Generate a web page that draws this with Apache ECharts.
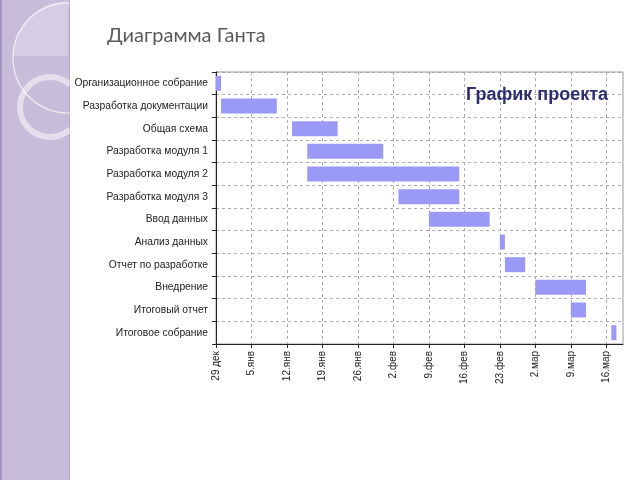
<!DOCTYPE html>
<html>
<head>
<meta charset="utf-8">
<script src="https://cdn.jsdelivr.net/npm/echarts@6/dist/echarts.min.js"></script>
<style>
  html, body { margin: 0; padding: 0; background: #fff; }
  #main { width: 640px; height: 480px; }
</style>
</head>
<body>
<div id="main"></div>
<script>
// задачи проекта (сверху вниз)
const tasks = [
  'Организационное собрание',
  'Разработка документации',
  'Общая схема',
  'Разработка модуля 1',
  'Разработка модуля 2',
  'Разработка модуля 3',
  'Ввод данных',
  'Анализ данных',
  'Отчет по разработке',
  'Внедрение',
  'Итоговый отчет',
  'Итоговое собрание'
];
const taskStart = ['2008-12-29', '2008-12-30', '2009-01-13', '2009-01-16', '2009-01-16', '2009-02-03',
  '2009-02-09', '2009-02-23', '2009-02-24', '2009-03-02', '2009-03-09', '2009-03-17'];
const taskEnd = ['2008-12-30', '2009-01-10', '2009-01-22', '2009-01-31', '2009-02-15', '2009-02-15',
  '2009-02-21', '2009-02-24', '2009-02-28', '2009-03-12', '2009-03-12', '2009-03-18'];
const tickLabels = ['29 дек', '5.янв', '12.янв', '19.янв', '26.янв', '2.фев', '9.фев', '16.фев',
  '23.фев', '2.мар', '9.мар', '16.мар'];
const firstDay = '2008-12-29';
const lastDay = 80.3; // правый край шкалы, дней от начала

const DAY = 86400000;
const toDay = s => (Date.parse(s) - Date.parse(firstDay)) / DAY;
const offsets = taskStart.map(toDay);
const lengths = taskEnd.map((e, i) => toDay(e) - offsets[i]);

const font = '"Liberation Sans", Arial, sans-serif';
const narrow = '"Liberation Sans Narrow", "Arial Narrow", "Liberation Sans", Arial, sans-serif';
const dashed = { color: '#aaa', type: [3, 3], width: 1 };

const myChart = echarts.init(document.getElementById('main'));
myChart.setOption({
  backgroundColor: '#fff',
  animation: false,
  // левая полоса слайда
  graphic: [
    { type: 'rect', shape: { x: 0, y: 0, width: 70, height: 480 }, style: { fill: '#c8bcdb' }, z: -10 },
    { type: 'rect', shape: { x: 0, y: 0, width: 2, height: 480 }, style: { fill: '#a494c2' }, z: -9 },
    { type: 'rect', shape: { x: 69, y: 0, width: 1, height: 480 }, style: { fill: '#b5a8cf' }, z: -9 },
    { type: 'sector', shape: { cx: 68, cy: 56, r: 55, r0: 0, startAngle: Math.PI, endAngle: Math.PI * 1.5 },
      style: { fill: 'rgba(255,255,255,0.25)' }, z: -8 },
    { type: 'arc', shape: { cx: 68, cy: 58, r: 55, startAngle: Math.PI / 2 - 0.05, endAngle: Math.PI * 1.5 + 0.05 },
      style: { stroke: 'rgba(255,255,255,0.75)', lineWidth: 1.2, fill: null }, z: -7 },
    { type: 'arc', shape: { cx: 50, cy: 107, r: 30, startAngle: 0.84, endAngle: Math.PI * 2 - 0.84 },
      style: { stroke: 'rgba(255,255,255,0.5)', lineWidth: 6, fill: null }, z: -7 }
  ],
  title: [
    {
      text: 'Диаграмма Ганта',
      left: 107, top: 26, padding: 0,
      textStyle: { fontFamily: 'Lato, "Open Sans", sans-serif', fontWeight: 'normal', fontSize: 20, color: '#5a5a5a' }
    },
    {
      text: 'График проекта',
      left: 466, top: 86, padding: 0,
      textStyle: { fontFamily: font, fontWeight: 'bold', fontSize: 18, color: '#2c2c70' }
    }
  ],
  grid: {
    left: 216, top: 72, right: 17, bottom: 136,
    show: true, borderColor: '#999', borderWidth: 1, backgroundColor: '#fff'
  },
  xAxis: {
    type: 'value',
    min: 0, max: lastDay, interval: 7,
    axisLine: { show: true, lineStyle: { color: '#222' } },
    axisTick: { show: true, length: 4, lineStyle: { color: '#222' }, customValues: tickLabels.map((_, i) => i * 7) },
    splitLine: { show: true, lineStyle: dashed },
    axisLabel: {
      rotate: 90, margin: 7, fontSize: 10, fontFamily: narrow, color: '#222',
      showMaxLabel: false,
      formatter: v => (v % 7 === 0 && tickLabels[v / 7]) ? tickLabels[v / 7] : ''
    }
  },
  yAxis: {
    type: 'category',
    data: tasks,
    inverse: true,
    boundaryGap: true,
    axisLine: { show: true, lineStyle: { color: '#222' } },
    axisTick: { show: true, length: 4, lineStyle: { color: '#222' } },
    splitLine: { show: true, lineStyle: dashed },
    axisLabel: { fontSize: 10.3, fontFamily: font, color: '#222', margin: 8 }
  },
  series: [
    {
      type: 'bar', stack: 'gantt', data: offsets,
      itemStyle: { color: 'transparent' }, silent: true, barWidth: 15
    },
    {
      type: 'bar', stack: 'gantt', data: lengths,
      itemStyle: { color: '#9a9af6' }, barWidth: 15
    }
  ]
});
window.onresize = function () {
  myChart.resize();
};
</script>
</body>
</html>
